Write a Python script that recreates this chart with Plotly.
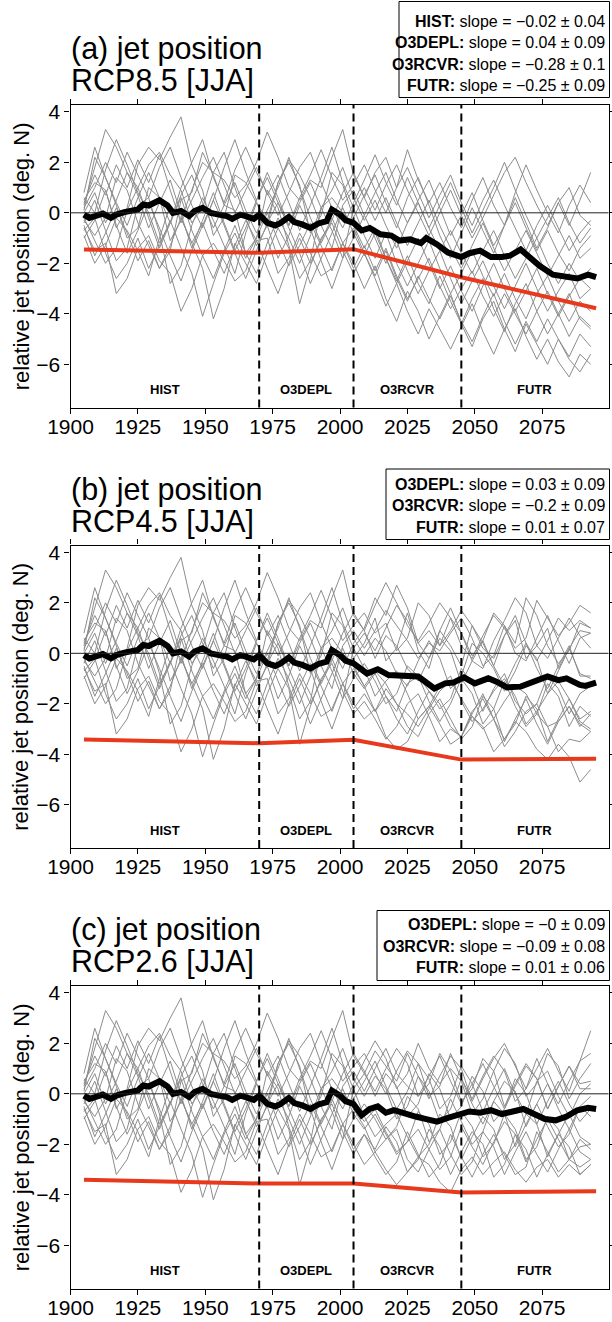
import plotly.graph_objects as go

W, H = 612, 1322
FONT = "Liberation Sans, Arial, Helvetica, sans-serif"

# ---------------- data ----------------
member_years_hist = [1905, 1909, 1913, 1917, 1921, 1925, 1929, 1933, 1937, 1941, 1945, 1949, 1953,
                     1957, 1961, 1965, 1969, 1973, 1977, 1981, 1985, 1989, 1993, 1997, 2001, 2005]
member_years_fut = [2009, 2013, 2017, 2021, 2025, 2029, 2033, 2037, 2041, 2045, 2049,
                    2053, 2057, 2061, 2065, 2069, 2073, 2077, 2081, 2085, 2089, 2093]

members_hist = [
    [0.3, 1.8, 3.3, 2.6, 1.6, 1.0, 1.9, 2.4, 1.5, 0.9, -0.4, 0.2, 1.6, 1.3, 0.6, 1.1, 2.0, 3.2, 2.2, 1.0, 0.5, 1.3, 1.0, 2.2, 3.3, 1.5],
    [-0.6, -1.5, -1.2, -3.2, -2.6, -1.4, -0.9, -1.9, -2.4, -3.9, -3.0, -1.7, -1.2, -1.9, -2.7, -2.3, -1.1, -1.0, -2.4, -1.8, -0.8, -1.6, -2.5, -2.2, -1.2, -2.0],
    [0.5, 1.2, 0.9, -0.6, 0.2, 1.9, 2.6, 2.1, 3.0, 3.8, 1.9, 0.9, -0.9, -0.2, 1.5, 1.2, 0.4, -0.3, 1.2, 2.0, 1.1, -0.8, -0.1, 1.6, 1.1, -0.2],
    [-0.3, -0.9, -0.2, 1.4, 0.9, -0.4, -1.3, -2.2, -1.5, 0.5, 0.8, 2.4, 1.5, 0.3, 0.1, -1.6, -1.0, 0.9, 0.2, -1.3, -2.6, -1.9, 0.2, 0.6, 0.0, -0.5],
    [0.1, 2.2, 1.4, 0.3, -1.0, -0.6, 1.0, 0.6, -1.1, -0.3, 0.9, 2.0, 1.6, 2.4, 1.0, -0.2, -1.3, -0.5, 1.2, 2.1, 1.5, 0.6, -0.5, -1.4, 0.3, 0.9],
    [-0.9, -2.0, -1.3, -0.2, -0.7, -1.5, -2.5, -1.0, 0.3, -0.2, -1.2, -2.2, -4.2, -3.0, -1.2, -2.0, -2.8, -1.6, -0.6, -1.4, -3.6, -2.1, -1.0, -0.4, -1.5, -2.4],
    [0.6, 0.0, 1.7, 2.9, 1.9, 0.8, 0.0, -1.2, -0.4, 1.0, 2.0, 2.9, 1.4, 0.4, 1.7, 2.6, 1.6, 0.8, -0.1, 0.8, 1.8, 2.4, 1.2, 0.2, -0.6, 0.4],
    [-0.4, 0.5, -0.7, -1.9, -1.4, 0.3, 0.6, -0.8, -2.8, -2.1, -0.5, 0.6, -0.3, -1.3, -2.4, -0.8, 0.4, -0.5, -1.8, -0.9, 0.3, -0.6, -1.9, -3.0, -1.8, 0.2],
    [0.2, 1.0, 2.0, 1.2, 2.4, 1.5, 0.6, 1.8, 2.6, 1.4, 0.3, -0.6, 0.5, 1.8, 2.9, 1.6, 0.5, 1.4, 0.4, -0.5, 0.6, 1.5, 2.5, 1.4, 0.5, 1.1],
    [-0.2, -1.1, -2.0, -1.4, 0.1, 1.0, -0.2, -1.4, -0.4, 0.6, -0.7, -1.7, -2.6, -1.5, -0.5, -1.6, -2.4, -1.2, -0.2, -1.0, -2.0, -0.9, 0.2, -0.7, -1.8, -1.0],
    [0.0, 0.8, -0.4, 0.5, 1.6, 0.7, -0.6, 0.4, 1.3, -0.1, -1.4, -0.3, 0.8, -0.4, -1.5, -0.6, 0.5, 1.6, 0.6, -0.5, 0.4, 1.2, 0.2, 0.9, 1.8, 0.6],
    [-0.7, -0.2, -1.6, -2.6, -2.0, -1.0, -2.2, -1.3, -0.3, -1.4, -2.4, -4.1, -2.8, -1.6, -0.8, -1.8, -1.0, 0.0, -1.1, -2.1, -1.3, -0.4, -1.3, -2.3, -1.2, -0.6],
    [0.4, 1.5, 0.7, 1.9, 1.0, 2.1, 1.2, 2.3, 0.9, -0.4, 0.5, 1.4, 2.2, 1.1, 0.0, 0.9, 1.8, 0.7, 1.5, 0.4, -0.7, 0.3, 1.4, 2.6, 1.2, 0.2],
    [-0.5, -1.7, -0.8, 0.2, -0.8, -1.9, -1.1, -2.2, -1.3, -0.2, -1.2, -0.4, -1.5, -2.4, -1.3, -0.3, -1.1, -2.2, -3.2, -2.0, -1.0, -2.0, -1.1, -0.2, -1.2, -2.2],
    [0.8, 2.6, 1.4, 0.4, -0.5, 0.6, 1.6, 0.6, -0.4, 0.7, 1.5, 0.4, -0.6, 0.3, 1.2, 0.1, -0.8, 0.1, 1.0, 2.2, 1.0, -0.2, -1.2, -0.3, 0.8, 1.6],
    [-1.0, -0.3, 0.9, -0.5, -1.6, -0.7, 0.4, -0.6, -1.7, -2.7, -1.5, -0.5, 0.5, -0.5, -1.6, -2.6, -1.5, -0.4, 0.4, -0.6, -1.6, -2.8, -1.8, -0.8, 0.2, -0.8],
]

members_fut_rcp85 = [
    [0.6, 1.6, 2.2, 1.0, 2.5, 1.3, 0.4, 1.2, 0.2, -0.6, 0.5, 1.4, 0.3, -0.5, 0.8, 1.9, 0.9, 0.0, -0.8, 0.3, 1.1, 0.4],
    [-3.0, -2.1, -3.4, -4.3, -3.1, -3.9, -5.0, -4.1, -3.2, -4.4, -5.3, -4.2, -3.5, -4.6, -5.5, -4.4, -5.2, -6.0, -5.0, -5.8, -6.3, -5.6],
    [0.7, 1.5, 0.4, -0.6, 0.6, 1.4, 0.3, -0.9, -1.8, -0.8, 0.2, -0.7, -1.6, -0.5, 0.6, -0.4, -1.4, -0.6, 0.4, 1.0, -0.1, -0.5],
    [-1.4, -0.6, -1.8, -2.7, -1.7, -2.8, -3.6, -2.5, -3.5, -4.4, -3.4, -2.6, -3.8, -4.7, -3.6, -2.8, -3.9, -4.8, -4.0, -3.2, -4.2, -4.6],
    [-0.1, 0.8, 1.6, 0.5, -0.4, 0.5, 1.3, 0.2, -0.9, -0.1, 0.8, -0.3, -1.3, -0.5, 0.4, -0.6, -1.5, -0.7, -1.6, -2.3, -1.4, -0.9],
    [-1.6, -2.6, -3.7, -2.8, -3.9, -4.8, -3.8, -4.6, -5.4, -4.5, -3.6, -4.7, -5.6, -4.6, -3.8, -4.9, -5.8, -5.0, -5.9, -6.5, -5.6, -6.0],
    [1.3, 2.3, 1.2, 0.3, 1.4, 0.4, -0.6, 0.3, 1.2, 0.2, -0.8, 0.1, 1.0, 2.0, 0.9, -0.1, -1.0, -0.2, 0.6, -0.4, -1.2, -0.6],
    [-0.9, -1.8, -0.8, -2.0, -2.9, -2.0, -1.1, -2.2, -3.2, -2.4, -1.5, -2.5, -3.3, -2.4, -3.4, -4.2, -3.2, -2.5, -3.5, -4.3, -3.5, -3.9],
    [1.9, 0.9, 0.0, 1.0, 1.8, 0.8, -0.2, 0.7, 1.5, 0.4, -0.5, 0.5, 1.3, 0.3, -0.6, -1.5, -0.5, 0.3, -0.6, -1.5, -0.8, -0.3],
    [-0.1, -1.0, -2.0, -1.1, -2.3, -3.2, -2.3, -1.5, -2.6, -3.6, -2.7, -1.9, -2.9, -3.8, -2.9, -2.0, -3.0, -3.9, -3.1, -2.4, -3.4, -3.0],
    [-0.3, 0.5, -0.5, -1.4, -0.4, 0.4, -0.6, -1.5, -0.7, -1.6, -2.4, -1.5, -0.7, -1.7, -2.6, -1.8, -1.0, -2.0, -2.8, -2.0, -2.7, -2.2],
    [-1.6, -2.5, -1.5, -2.6, -3.5, -2.5, -3.4, -4.2, -3.3, -4.3, -5.1, -4.1, -3.2, -4.3, -5.2, -4.3, -5.1, -4.2, -5.0, -5.7, -4.8, -5.3],
    [1.0, 0.1, 1.1, 1.9, 0.9, 0.0, -0.9, 0.0, 0.9, -0.1, -1.0, -0.2, 0.7, 1.6, 2.2, 1.2, 0.3, -0.5, 0.4, -0.5, 0.5, 1.6],
    [-1.3, -2.3, -1.4, -2.5, -3.4, -2.6, -1.8, -2.9, -3.8, -3.0, -2.3, -3.3, -4.1, -3.2, -4.0, -4.8, -3.9, -3.1, -4.0, -4.9, -4.1, -4.5],
    [0.6, -0.3, 0.6, -0.4, -1.3, -0.4, 0.5, -0.5, -1.4, -2.2, -1.3, -0.4, -1.4, -2.3, -1.5, -0.7, -1.6, -2.5, -1.7, -0.9, -1.8, -1.4],
    [-1.7, -0.8, -1.8, -2.8, -1.9, -1.0, -2.0, -3.0, -2.1, -3.1, -3.9, -2.9, -2.0, -3.0, -3.9, -3.1, -2.2, -3.2, -4.1, -3.3, -2.6, -3.0],
]

members_fut_rcp45 = [
    [0.9, 1.9, 2.8, 2.0, 1.1, 0.5, 1.2, 2.0, 1.4, 0.3, -0.2, 0.7, 1.5, 1.0, 0.2, 0.6, 2.1, 1.4, 0.7, 1.2, 1.9, 1.6],
    [-2.6, -2.2, -3.3, -3.8, -3.5, -2.6, -2.1, -2.8, -3.6, -3.3, -2.5, -2.9, -3.9, -3.4, -2.7, -3.1, -3.8, -4.2, -3.6, -4.1, -5.1, -4.6],
    [0.4, 1.4, -0.3, 0.2, 1.6, 0.1, -0.6, 0.9, 0.3, -0.5, 1.1, 0.4, -0.5, 0.7, 1.3, -0.2, 0.3, 1.0, -0.6, 0.2, 0.9, 0.8],
    [-1.3, -0.7, -1.2, -2.0, -2.4, -2.9, -2.2, -1.5, -1.1, -1.8, -2.5, -3.0, -2.6, -1.9, -1.3, -1.6, -2.4, -2.9, -2.7, -2.1, -2.9, -2.4],
    [0.2, 0.9, 1.7, 1.1, 0.5, -0.2, 0.4, 0.1, 0.8, 1.4, 0.6, -0.5, -0.1, 1.1, 0.4, 2.2, 1.5, 0.3, -0.4, 0.1, 1.2, 1.0],
    [-1.9, -2.6, -3.4, -2.9, -2.0, -1.6, -2.5, -3.5, -3.0, -3.3, -2.3, -1.8, -2.6, -3.7, -3.1, -2.3, -2.0, -2.9, -3.9, -3.4, -3.5, -3.1],
    [1.0, 2.2, 1.5, 2.7, 1.8, 0.4, 0.9, 0.3, 1.4, 0.8, -0.3, -0.6, 0.5, 1.3, 2.2, 1.6, 0.3, -0.2, 0.6, 1.4, 0.7, 0.2],
    [-0.6, -1.7, -1.1, -0.7, -1.6, -2.6, -2.1, -1.3, -0.9, -1.9, -2.7, -2.2, -1.5, -1.0, -1.7, -2.8, -2.3, -1.6, -1.1, -1.8, -2.6, -2.3],
    [1.6, 0.8, 1.2, 0.1, 0.6, 2.0, 1.5, 0.3, 0.9, 1.7, 1.1, 0.2, -0.2, 0.7, 1.5, 0.4, -0.3, 0.5, 1.4, 0.9, 1.3, 1.0],
    [-0.4, -1.1, -2.0, -1.6, -0.5, -0.9, -1.5, -2.2, -1.8, -0.6, -1.2, -2.3, -1.4, -0.8, -1.9, -2.4, -2.0, -0.9, -1.4, -2.4, -1.6, -1.3],
    [-0.1, 0.6, 0.1, -0.8, -1.3, -0.3, 0.5, -0.2, -1.4, -0.9, 0.4, 0.0, -0.6, -1.5, -0.7, 0.3, -0.2, -1.6, -0.7, 0.2, -0.8, -1.0],
    [-1.3, -2.3, -1.7, -2.6, -3.2, -2.3, -1.5, -2.0, -2.9, -3.3, -2.4, -1.6, -2.6, -3.4, -2.8, -1.7, -2.2, -3.5, -2.6, -1.8, -2.7, -3.0],
    [0.8, 0.1, 1.0, 1.9, 1.3, 0.4, -0.2, 0.9, 1.8, 0.8, -0.1, 0.5, 1.6, 1.1, 0.0, -0.3, 0.6, 1.5, 0.5, -0.4, 0.6, 0.8],
    [-1.6, -2.3, -1.4, -2.0, -2.9, -3.3, -2.4, -1.8, -2.6, -3.4, -2.9, -1.7, -2.2, -3.5, -2.6, -1.8, -2.8, -3.6, -2.7, -2.1, -2.8, -3.1],
    [0.9, -0.2, 0.7, 0.3, -0.6, -1.1, -0.2, 0.6, 0.1, -1.2, -0.3, 0.5, -0.5, -1.3, -0.4, 0.4, -0.6, -1.4, -0.5, 0.3, -0.9, -0.9],
    [-1.4, -0.8, -1.7, -2.3, -1.2, -0.9, -1.9, -2.7, -2.0, -1.0, -1.6, -2.8, -2.2, -1.1, -2.1, -2.9, -2.4, -1.2, -1.7, -2.9, -2.1, -2.5],
]

members_fut_rcp26 = [
    [0.8, 1.7, 1.1, 0.5, 1.6, 0.7, -0.2, 0.7, 1.5, 1.0, -0.3, 0.6, 1.4, 2.0, 1.1, 0.2, 1.0, 1.8, 0.9, 0.1, 1.3, 2.5],
    [-2.8, -2.3, -3.0, -3.6, -3.1, -2.5, -2.8, -3.5, -3.9, -3.0, -2.5, -3.2, -2.7, -2.3, -3.0, -3.5, -2.9, -2.6, -3.3, -2.8, -3.2, -2.8],
    [0.5, 1.3, 0.3, -0.6, 0.1, 1.2, 0.6, -0.6, -0.1, 1.1, 0.4, -0.7, 0.2, 1.0, 0.0, -0.8, 0.5, 0.9, -0.1, -0.9, 0.0, 0.4],
    [-1.1, -0.6, -1.5, -2.3, -1.9, -1.4, -2.2, -3.0, -2.5, -1.3, -2.1, -2.8, -1.9, -1.1, -1.6, -2.7, -1.8, -1.0, -1.8, -2.6, -2.1, -2.0],
    [0.1, 1.0, 1.8, 0.8, 0.3, -0.1, 0.7, 1.5, 0.5, -0.4, 0.4, 1.2, 0.3, -0.6, 0.3, 1.1, 0.6, -0.6, 0.3, 1.1, 0.2, 0.2],
    [-1.6, -2.5, -3.2, -2.7, -1.5, -2.4, -3.3, -2.8, -1.6, -2.5, -3.3, -2.4, -1.6, -2.4, -3.2, -2.9, -1.5, -2.3, -3.1, -2.6, -2.9, -2.6],
    [1.3, 2.1, 1.4, 0.2, 0.8, 2.0, 1.0, 0.4, 1.0, 0.5, -0.8, -0.2, 0.9, 1.8, 1.2, -0.1, 0.4, 1.6, 1.1, -0.2, 0.6, 1.2],
    [-0.9, -1.7, -1.2, -0.8, -1.7, -2.5, -2.0, -0.8, -1.3, -2.6, -1.7, -0.9, -1.4, -2.6, -2.0, -0.8, -1.2, -2.5, -1.6, -0.8, -1.7, -2.0],
    [1.6, 0.8, 0.0, 0.9, 1.7, 1.2, -0.1, 0.3, 1.6, 0.6, -0.2, 0.7, 1.5, 0.9, -0.3, 0.2, 1.4, 0.4, -0.4, 0.5, 1.3, 1.6],
    [-0.4, -1.0, -1.8, -1.3, -0.1, -0.6, -1.9, -1.4, -0.2, -1.1, -2.0, -1.5, -0.3, -0.8, -2.1, -1.2, -0.4, -1.3, -2.1, -1.6, -0.5, -0.9],
    [-0.1, 0.7, 0.2, -1.0, -0.5, 0.7, 0.1, -1.1, -0.6, 0.6, -0.4, -1.2, -0.3, 0.5, 0.1, -1.3, -0.4, 0.4, -0.6, -1.4, -0.5, -0.1],
    [-1.3, -2.3, -1.8, -1.4, -2.6, -3.1, -2.2, -1.4, -2.4, -3.2, -2.7, -1.5, -2.1, -3.2, -2.3, -1.5, -2.4, -3.1, -2.2, -1.4, -2.3, -2.6],
    [0.8, 0.1, 1.0, 1.8, 1.2, -0.1, 0.4, 1.6, 0.9, -0.3, 0.2, 1.4, 0.9, -0.5, 0.4, 1.2, 0.6, -0.6, 0.3, 1.1, 0.4, 0.5],
    [-1.6, -2.2, -1.3, -1.9, -3.1, -2.6, -1.4, -2.1, -3.2, -2.3, -1.5, -2.0, -3.3, -2.8, -1.6, -2.2, -3.3, -2.4, -1.6, -2.1, -3.2, -2.8],
    [0.9, -0.1, 0.8, 0.3, -0.9, -0.4, 0.8, 0.2, -1.0, -0.5, 0.7, 0.1, -1.1, -0.6, 0.6, 0.0, -1.2, -0.3, 0.5, -0.4, -1.1, -0.6],
    [-1.4, -0.8, -1.6, -2.4, -1.9, -0.7, -1.2, -2.4, -1.9, -0.7, -1.3, -2.5, -2.0, -0.8, -1.4, -2.6, -2.1, -0.9, -1.4, -2.6, -1.8, -2.2],
]

mean_years_hist = [1905, 1907, 1910, 1912, 1915, 1917, 1920, 1922, 1925, 1927, 1929, 1933, 1936, 1938,
                   1941, 1944, 1946, 1949, 1952, 1955, 1958, 1960, 1963, 1965, 1968, 1970, 1973, 1976,
                   1978, 1981, 1983, 1986, 1989, 1992, 1995, 1997, 2000, 2002, 2005]
mean_hist = [-0.07, -0.2, -0.1, -0.03, -0.2, -0.07, 0.03, 0.07, 0.13, 0.33, 0.29, 0.5, 0.29, 0.0,
             0.07, -0.13, 0.07, 0.2, 0.0, -0.07, -0.13, -0.24, -0.07, -0.13, -0.24, -0.07, -0.4, -0.5,
             -0.4, -0.16, -0.37, -0.46, -0.6, -0.42, -0.33, 0.13, -0.07, -0.29, -0.4]

mean_years_fut_rcp85 = [2008, 2011, 2015, 2019, 2022, 2026, 2030, 2032, 2036, 2040, 2045, 2048, 2052,
                        2056, 2060, 2063, 2067, 2071, 2074, 2079, 2084, 2088, 2092, 2095]
mean_fut_rcp85 = [-0.7, -0.6, -0.85, -0.9, -1.1, -1.05, -1.2, -1.0, -1.25, -1.57, -1.75, -1.6, -1.5,
                  -1.75, -1.75, -1.7, -1.45, -1.8, -2.1, -2.45, -2.5, -2.6, -2.45, -2.55]

mean_years_fut_rcp45 = [2010, 2014, 2018, 2022, 2029, 2035, 2039, 2042, 2046, 2050, 2055, 2058, 2062,
                        2067, 2072, 2077, 2081, 2084, 2089, 2091, 2095]
mean_fut_rcp45 = [-0.8, -0.63, -0.86, -0.9, -0.92, -1.39, -1.19, -1.16, -0.95, -1.19, -0.99, -1.12, -1.35,
                  -1.32, -1.12, -0.92, -1.06, -0.99, -1.25, -1.29, -1.16]

mean_years_fut_rcp26 = [2008, 2011, 2014, 2017, 2020, 2024, 2028, 2032, 2036, 2040, 2044, 2048, 2052,
                        2056, 2060, 2064, 2068, 2072, 2076, 2080, 2084, 2088, 2092, 2095]
mean_fut_rcp26 = [-0.85, -0.6, -0.5, -0.75, -0.65, -0.8, -0.9, -1.0, -1.1, -0.95, -0.85, -0.7, -0.75,
                  -0.65, -0.8, -0.7, -0.6, -0.8, -1.0, -1.05, -0.9, -0.65, -0.55, -0.6]

trend_years = [1905, 1970, 2005, 2045, 2095]
trend_rcp85 = [-1.45, -1.58, -1.44, -2.55, -3.78]
trend_rcp45 = [-3.41, -3.56, -3.42, -4.21, -4.18]
trend_rcp26 = [-3.40, -3.55, -3.55, -3.91, -3.86]

period_bounds = [1970, 2005, 2045]
period_names = ["HIST", "O3DEPL", "O3RCVR", "FUTR"]
period_centers = [1935, 1987.5, 2025, 2072]
period_label_y = -7.0

panel_titles = ["(a) jet position", "(b) jet position", "(c) jet position"]
panel_scenarios = ["RCP8.5 [JJA]", "RCP4.5 [JJA]", "RCP2.6 [JJA]"]

legend_periods = [["HIST", "O3DEPL", "O3RCVR", "FUTR"],
                  ["O3DEPL", "O3RCVR", "FUTR"],
                  ["O3DEPL", "O3RCVR", "FUTR"]]
legend_slopes = [[-0.02, 0.04, -0.28, -0.25],
                 [0.03, -0.2, 0.01],
                 [-0.0, -0.09, 0.01]]
legend_errors = [[0.04, 0.09, 0.1, 0.09],
                 [0.09, 0.09, 0.07],
                 [0.09, 0.08, 0.06]]

x_ticks = [1900, 1925, 1950, 1975, 2000, 2025, 2050, 2075]
y_ticks = [-6, -4, -2, 0, 2, 4]
x_range = [1900, 2099.6]
y_range = [-7.71, 4.27]
y_title = "relative jet position (deg. N)"

members_fut = [members_fut_rcp85, members_fut_rcp45, members_fut_rcp26]
means_fut = [(mean_years_fut_rcp85, mean_fut_rcp85),
             (mean_years_fut_rcp45, mean_fut_rcp45),
             (mean_years_fut_rcp26, mean_fut_rcp26)]
trends = [trend_rcp85, trend_rcp45, trend_rcp26]

# ---------------- layout geometry (pixels) ----------------
PLOT_L, PLOT_R = 70.5, 608.5
panel_px = [(105, 407.5), (545.5, 848), (986, 1288.5)]   # (top, bottom)
title_px = [(48.5, 80.5), (489, 521), (929.5, 961.5)]
legend_box_px = [(399, 1.5, 609.5, 97.5), (386, 469, 609.5, 539.5), (377, 910.5, 609.5, 980.5)]
legend_rows_px = [[21.5, 43, 64.5, 86], [484.5, 506, 527.5], [924.5, 946, 967.5]]


def px(x):
    return x / W


def py(y):
    return 1 - y / H


def fmt(v):
    return format(v, "g").replace("-", "\u2212")


GREY = "#8c8c8c"
RED = "#e8391d"

fig = go.Figure()
layout_axes = {}
annotations = []
shapes = []

for i in range(3):
    sfx = "" if i == 0 else str(i + 1)
    xa, ya = "x" + sfx, "y" + sfx
    for m in range(len(members_hist)):
        fig.add_trace(go.Scatter(
            x=member_years_hist + member_years_fut,
            y=members_hist[m] + members_fut[i][m],
            mode="lines", line=dict(color=GREY, width=1),
            xaxis=xa, yaxis=ya, showlegend=False, hoverinfo="skip"))
    fig.add_trace(go.Scatter(
        x=trend_years, y=trends[i], mode="lines",
        line=dict(color=RED, width=4), xaxis=xa, yaxis=ya,
        showlegend=False, hoverinfo="skip"))
    fy, fv = means_fut[i]
    fig.add_trace(go.Scatter(
        x=mean_years_hist + fy, y=mean_hist + fv, mode="lines",
        line=dict(color="black", width=6), xaxis=xa, yaxis=ya,
        showlegend=False, hoverinfo="skip"))

    top, bot = panel_px[i]
    common = dict(ticks="outside", ticklen=5, tickwidth=1, tickcolor="black",
                  showline=True, linecolor="black", linewidth=1.2, mirror="ticks",
                  showgrid=False, zeroline=False, automargin=False,
                  tickfont=dict(family=FONT, size=21, color="black"))
    layout_axes["xaxis" + sfx] = dict(
        domain=[px(PLOT_L), px(PLOT_R)], anchor=ya, range=x_range,
        tickmode="array", tickvals=x_ticks, ticklabelstandoff=-5, **common)
    layout_axes["yaxis" + sfx] = dict(
        domain=[py(bot), py(top)], anchor=xa, range=y_range,
        tickmode="array", tickvals=y_ticks, **common)

    shapes.append(dict(type="line", xref=xa + " domain", yref=ya, x0=0, x1=1, y0=0, y1=0,
                       line=dict(color="#222222", width=1), layer="above"))
    for b in period_bounds:
        shapes.append(dict(type="line", xref=xa, yref=ya + " domain", x0=b, x1=b, y0=0, y1=1,
                           line=dict(color="black", width=2, dash="8px,5px"), layer="above"))
    for name, cx in zip(period_names, period_centers):
        annotations.append(dict(x=cx, y=period_label_y, xref=xa, yref=ya, text="<b>%s</b>" % name,
                                showarrow=False, font=dict(family=FONT, size=13, color="black"),
                                xanchor="center", yanchor="middle"))
    t1, t2 = title_px[i]
    for txt, ty in ((panel_titles[i], t1), (panel_scenarios[i], t2)):
        annotations.append(dict(x=px(PLOT_L - 2), y=py(ty), xref="paper", yref="paper",
                                text=txt, showarrow=False, xanchor="left", yanchor="middle",
                                font=dict(family=FONT, size=30.5, color="black")))
    annotations.append(dict(x=px(21), y=py((top + bot) / 2), xref="paper", yref="paper",
                            text=y_title, textangle=-90, showarrow=False,
                            xanchor="center", yanchor="middle",
                            font=dict(family=FONT, size=22, color="black")))
    x0, y0, x1, y1 = legend_box_px[i]
    shapes.append(dict(type="rect", xref="paper", yref="paper", x0=px(x0), x1=px(x1),
                       y0=py(y1), y1=py(y0), line=dict(color="black", width=1),
                       fillcolor="white", layer="above"))
    for name, s, e, ry in zip(legend_periods[i], legend_slopes[i], legend_errors[i], legend_rows_px[i]):
        annotations.append(dict(x=px(x1 - 2.5), y=py(ry), xref="paper", yref="paper",
                                text="<b>%s:</b> slope = %s \u00b1 %s" % (name, fmt(s), fmt(e)),
                                showarrow=False, xanchor="right", yanchor="middle",
                                font=dict(family=FONT, size=16, color="black")))

fig.update_layout(
    template="none",
    width=W, height=H, margin=dict(l=0, r=0, t=0, b=0, pad=0),
    paper_bgcolor="white", plot_bgcolor="white",
    showlegend=False, annotations=annotations, shapes=shapes,
    font=dict(family=FONT, color="black"),
    **layout_axes)

fig.write_html("out.html")
